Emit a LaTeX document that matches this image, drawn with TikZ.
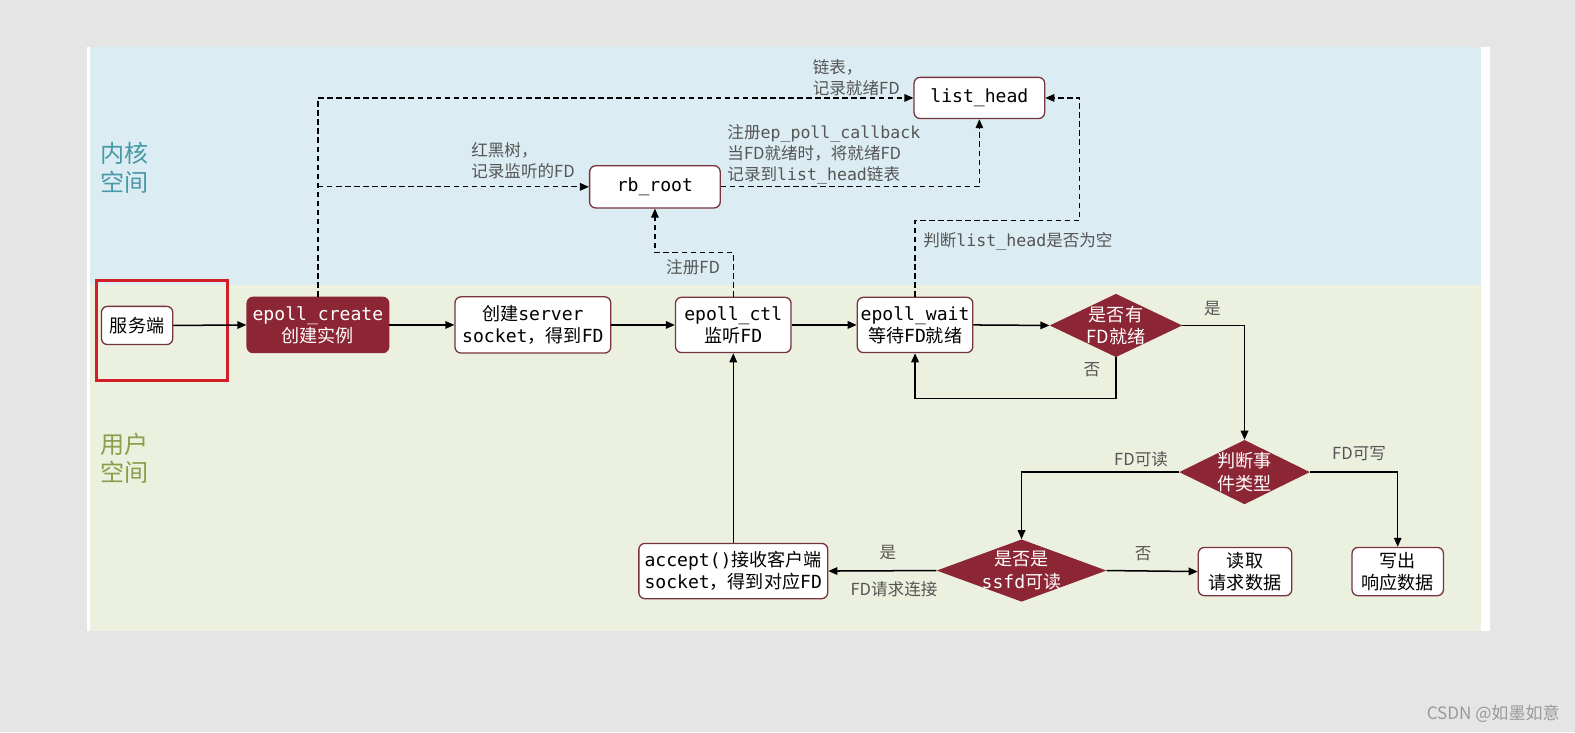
\documentclass[tikz,border=0pt]{standalone}
\usepackage{fontspec}
\setmainfont{Noto Sans CJK SC}
\newfontfamily\mn{DejaVu Sans Mono}
\newcommand\m[1]{{\mn #1}}
\usetikzlibrary{shapes.geometric,arrows.meta}
\definecolor{outerbg}{RGB}{229,229,229}
\definecolor{kernbg}{RGB}{219,237,243}
\definecolor{userbg}{RGB}{235,240,223}
\definecolor{darkred}{RGB}{140,38,52}
\definecolor{boxline}{RGB}{120,52,62}
\definecolor{hlred}{RGB}{210,30,40}
\definecolor{kerncol}{RGB}{72,152,166}
\definecolor{usercol}{RGB}{140,156,74}
\definecolor{lblgray}{RGB}{85,85,85}
\begin{document}
\begin{tikzpicture}[x=1pt,y=-1pt,
  box/.style={draw=boxline, fill=white, rounded corners=6pt, line width=1.3pt, align=center,
    font=\fontsize{18}{22}\selectfont, inner sep=0pt, text=black},
  dbox/.style={box, fill=darkred, draw=darkred, text=white},
  dia/.style={diamond, fill=darkred, draw=none, inner sep=0pt},
  dtext/.style={text=white, align=center, font=\fontsize{18}{22}\selectfont, inner sep=0pt},
  lbl/.style={text=lblgray, align=left, font=\fontsize{16.5}{21}\selectfont, inner sep=0pt},
  conn/.style={line width=1.5pt, -{Triangle[length=9pt,width=7.5pt]}},
  dconn/.style={line width=1.3pt, dash pattern=on 5.5pt off 3.5pt, -{Triangle[length=9pt,width=7.5pt]}},
  side/.style={align=left, font=\fontsize{24}{28}\selectfont, inner sep=0pt}
]
\useasboundingbox (0,0) rectangle (1568,729);
\fill[outerbg] (0,0) rectangle (1568,729);
\fill[white] (87,47) rectangle (1483,628);
\fill[kernbg] (90,47) rectangle (1474,284);
\fill[userbg] (90,284) rectangle (1474,628);

% side labels
\node[side, text=kerncol] (kern) at (124,167) {内核\\空间};
\node[side, text=usercol] (user) at (124,456) {用户\\空间};

% highlight
\draw[hlred, line width=3pt] (96,279) rectangle (226,379);

% nodes
\node[box, minimum width=71pt, minimum height=38pt] (srv) at (136.5,324) {服务端};
\node[dbox, minimum width=141pt, minimum height=55pt] (create) at (316.5,323.5) {\m{epoll\_create}\\创建实例};
\node[box, minimum width=155pt, minimum height=56pt] (server) at (530.5,323.5) {创建\m{server}\\\m{socket}，得到\m{FD}};
\node[box, minimum width=115pt, minimum height=55pt] (ctl) at (730,323.5) {\m{epoll\_ctl}\\监听\m{FD}};
\node[box, minimum width=115pt, minimum height=55pt] (wait) at (911,323.5) {\m{epoll\_wait}\\等待\m{FD}就绪};
\node[dia, minimum width=132pt, minimum height=63pt] (d1) at (1111,324) {};
\node[dtext] (d1t) at (d1) {是否有\\FD就绪};

\node[box, minimum width=130pt, minimum height=41pt] (list) at (975,97.5) {\m{list\_head}};
\node[box, minimum width=130pt, minimum height=42pt] (rb) at (652,186) {\m{rb\_root}};

\node[dia, minimum width=130pt, minimum height=64pt] (d2) at (1239,470) {};
\node[dtext] (d2t) at (d2) {判断事\\件类型};
\node[dia, minimum width=169pt, minimum height=62pt] (d3) at (1017,568) {};
\node[dtext] (d3t) at (d3) {是否是\\\m{ssfd}可读};

\node[box, minimum width=188pt, minimum height=55pt] (accept) at (730,568.5) {\m{accept()}接收客户端\\\m{socket}，得到对应\m{FD}};
\node[box, minimum width=93pt, minimum height=48pt] (read) at (1239.5,569) {读取\\请求数据};
\node[box, minimum width=91pt, minimum height=48pt] (write) at (1391.5,569) {写出\\响应数据};

% solid connectors
\draw[conn] (srv.east) -- (create.west);
\draw[conn] (create.east) -- (server.west);
\draw[conn] (server.east) -- (ctl.west);
\draw[conn] (ctl.east) -- (wait.west);
\draw[conn] (wait.east) -- (d1.west);
\draw[conn] (d1.east) -| (d2.north);
\draw[conn] (d1.south) -- ++(0,41) -| (wait.south);
\draw[conn] (d2.west) -| (d3.north);
\draw[conn] (d2.east) -| (write.north);
\draw[conn] (d3.west) -- (accept.east);
\draw[conn] (d3.east) -- (read.west);
\draw[conn] (accept.north) -- (ctl.south);

% dashed connectors
\draw[dconn] (create.north) |- (list.west);
\draw[dconn] (create.north |- rb.west) -- (rb.west);
\draw[dconn] (rb.east) -| (list.south);
\draw[dconn] (ctl.north) -- ++(0,-44) -| (rb.south);
\draw[dconn] (wait.north) -- ++(0,-76) -- ++(164,0) |- (list.east);

% labels
\node[lbl, anchor=west] (l1) at (809,77) {链表，\\记录就绪FD};
\node[lbl, anchor=west] (l2) at (469,160) {红黑树，\\记录监听的FD};
\node[lbl, anchor=west] (l3) at (724,154) {注册\m{ep\_poll\_callback}\\当FD就绪时，将就绪FD\\记录到\m{list\_head}链表};
\node[lbl] (l4) at (690,266) {注册FD};
\node[lbl, anchor=west] (l5) at (919,240) {判断\m{list\_head}是否为空};
\node[lbl] (l6) at (1207,307) {是};
\node[lbl] (l7) at (1087,368) {否};
\node[lbl] (l8) at (1136,457) {FD可读};
\node[lbl] (l9) at (1353,452) {FD可写};
\node[lbl] (l10) at (884,550) {是};
\node[lbl] (l11) at (890,587) {FD请求连接};
\node[lbl] (l12) at (1138,551) {否};

\node[text=gray!80, font=\fontsize{17}{17}\selectfont, anchor=east, inner sep=0pt] (wm) at (1553,711) {CSDN @如墨如意};
\end{tikzpicture}
\end{document}
